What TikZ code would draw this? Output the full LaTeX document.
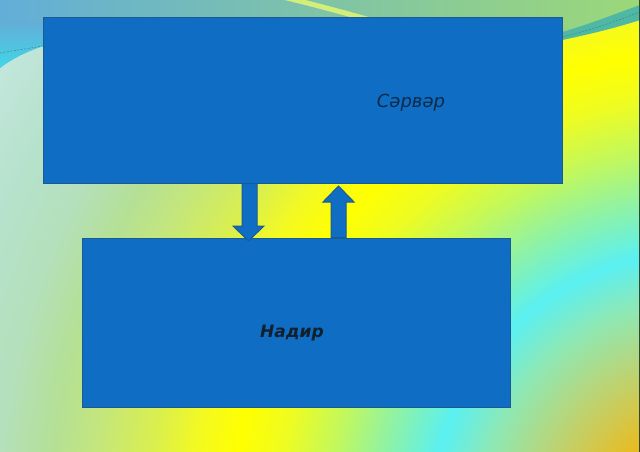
\documentclass[tikz,border=0pt]{standalone}
\usepackage{fontspec}
\setmainfont{DejaVu Sans}
\usetikzlibrary{calc}
\definecolor{boxblue}{HTML}{0F6EC4}
\definecolor{boxedge}{HTML}{1B5A92}
\definecolor{txtA}{HTML}{0C2A4A}
\definecolor{txtB}{HTML}{10202E}
\definecolor{s0}{HTML}{F2AA00}
\definecolor{s1}{HTML}{EEB814}
\definecolor{s2}{HTML}{D2C84E}
\definecolor{s3}{HTML}{B2D882}
\definecolor{s4}{HTML}{8EE8B4}
\definecolor{s5}{HTML}{5AF0F2}
\definecolor{s6}{HTML}{8EF2A6}
\definecolor{s7}{HTML}{C2F85C}
\definecolor{s8}{HTML}{EEFC22}
\definecolor{s9}{HTML}{FFFF00}
\definecolor{s10}{HTML}{F4FA20}
\definecolor{s11}{HTML}{DCF04A}
\definecolor{s12}{HTML}{C4E67C}
\definecolor{s12b}{HTML}{B4E096}
\definecolor{s13}{HTML}{B4E0BC}
\definecolor{s14}{HTML}{B6E2CC}
\definecolor{s15}{HTML}{C2E6DC}
\definecolor{s16}{HTML}{CCEBE6}
\definecolor{ovlL}{HTML}{62AED8}
\definecolor{ovlM}{HTML}{68B4A8}
\definecolor{ovlR}{HTML}{9CD878}
\definecolor{cyanA}{HTML}{40D8E8}
\definecolor{swoosh}{HTML}{D4EE7A}
\definecolor{tealband}{HTML}{4EB8A4}
\definecolor{dashteal}{HTML}{3A8A88}
\definecolor{frameedge}{HTML}{2E4A34}
\pgfdeclareradialshading{bgshade}{\pgfpoint{0bp}{0bp}}{%
color(0bp)=(s0); color(85bp)=(s1); color(130bp)=(s2); color(175bp)=(s3);
color(220bp)=(s4); color(268bp)=(s5); color(320bp)=(s6); color(370bp)=(s7);
color(420bp)=(s8); color(465bp)=(s9); color(505bp)=(s10); color(545bp)=(s11);
color(605bp)=(s12); color(650bp)=(s12b); color(700bp)=(s13); color(760bp)=(s14);
color(830bp)=(s15); color(950bp)=(s16)}
\tikzset{
  bluebox/.style={draw=boxedge, line width=1pt, fill=boxblue, inner sep=0pt, outer sep=0pt},
  blockarrow/.style={draw=boxedge, line width=1pt, fill=boxblue, line join=miter},
  lbl/.style={inner sep=0pt, font=\fontsize{18}{21}\selectfont\itshape}
}
\begin{document}
\begin{tikzpicture}[x=1pt,y=-1pt]
\useasboundingbox (0,0) rectangle (640,452);
\begin{scope}
  \clip (0,0) rectangle (640,452);
  \node[inner sep=0pt, outer sep=0pt] (bg) at (700,520) {\pgfuseshading{bgshade}};
  % top decorative band
  \def\ovl{(0,0) -- (640,0) -- (640,20) .. controls (615,28) and (590,34) .. (562,40)
     -- (300,60) -- (43,46) .. controls (25,52) and (10,60) .. (0,68) -- cycle}
  \shade[left color=ovlL, middle color=ovlM, right color=ovlR] \ovl;
  \begin{scope}
    \clip \ovl;
    \shade[top color=ovlL, bottom color=cyanA] (0,22) rectangle (60,70);
    \draw[line width=5pt, swoosh] (283,-3) .. controls (320,6) and (345,13) .. (374,21);
  \end{scope}
  \fill[tealband] (562,32) .. controls (590,24) and (615,14) .. (640,5) -- (640,20)
     .. controls (615,28) and (590,34) .. (562,40) -- cycle;
  \draw[dashteal, line width=0.5pt, dash pattern=on 2pt off 1.5pt] (562,37) .. controls (590,30) and (615,22) .. (640,12);
  \draw[dashteal, line width=0.5pt, dash pattern=on 2pt off 1.5pt] (0,53) -- (43,46);
  \draw[frameedge, line width=1pt] (639.5,0) -- (639.5,452);
\end{scope}
% boxes
\node[bluebox, minimum width=519pt, minimum height=165pt] (server) at (302.5,100.5) {};
\node[bluebox, minimum width=428pt, minimum height=169pt] (client) at (296,322.5) {};
% block arrows
\draw[blockarrow] (242,183.5) -- (257,183.5) -- (257,226) -- (264,226) -- (248.5,241)
   -- (233,226) -- (242,226) -- cycle;
\draw[blockarrow] (331,237.5) -- (346,237.5) -- (346,202) -- (354,202) -- (338.5,186)
   -- (323,202) -- (331,202) -- cycle;
% texts
\node[lbl, text=txtA] (servertext) at (411,103) {Сәрвәр};
\node[lbl, text=txtB, font=\fontsize{17}{20}\selectfont\bfseries\itshape] (clienttext) at (292,333) {Надир};
\end{tikzpicture}
\end{document}
